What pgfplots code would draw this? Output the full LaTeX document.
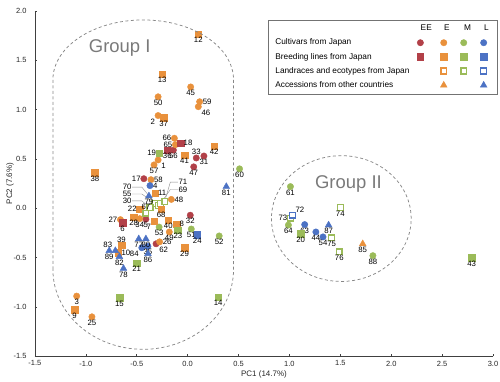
\documentclass[border=0pt]{standalone}
\usepackage{pgfplots}
\pgfplotsset{compat=1.18}
\usepackage{fontspec}
\setmainfont{Liberation Sans}
\definecolor{cEE}{RGB}{178,64,72}
\definecolor{cE}{RGB}{233,145,60}
\definecolor{cM}{RGB}{155,187,89}
\definecolor{cL}{RGB}{76,114,196}
\definecolor{grp}{RGB}{122,122,122}
\newcommand{\tickfont}{\fontsize{7.5pt}{9pt}\selectfont}
\newcommand{\lblfont}{\fontsize{7.8pt}{9pt}\selectfont}
\newcommand{\axfont}{\fontsize{8pt}{9pt}\selectfont}
\newcommand{\legfont}{\fontsize{8.3pt}{10pt}\selectfont}
\newcommand{\grpfont}{\fontsize{18.5pt}{22pt}\selectfont}
\tikzset{
  circ/.style={mark=*, mark size=3.2pt, mark options={draw=#1, fill=#1, line width=0.4pt}},
  sq/.style={mark=square*, mark size=3.3pt, mark options={draw=#1, fill=#1, line width=0.4pt}},
  hsq/.style={mark=square*, mark size=2.9pt, mark options={draw=#1, fill=white, line width=1.4pt}},
  tri/.style={mark=triangle*, mark size=3.9pt, mark options={draw=#1, fill=#1, line width=0.4pt}},
  grpline/.style={draw=grp!90, line width=0.75pt, dash pattern=on 3pt off 2.5pt},
}
\pgfplotsset{
  lab/.style={only marks, forget plot, point meta=explicit symbolic, nodes near coords,
    visualization depends on={value \thisrow{a}\as\anc},
    every node near coord/.append style={font=\lblfont, anchor=\anc, inner sep=0pt, outer sep=3.2pt, text=black}},
  rowlab/.style={legend image code/.code={\path[draw=none, fill=none] (0pt,0pt) rectangle (2pt,1pt);}},
  hdr/.style={legend image code/.code={\path[draw=none, fill=none] (-8pt,-4pt) rectangle (8pt,4pt); \node[inner sep=0pt, text=black, draw=none, fill=none] at (0pt,0pt) {#1};}},
  mkimg/.style={legend image code/.code={\path[draw=none, fill=none] (-8pt,-4pt) rectangle (8pt,4pt); \draw[##1, only marks] plot coordinates {(0pt,0pt)};}},
  blank/.style={legend image code/.code={\path[draw=none, fill=none] (-8pt,-4pt) rectangle (8pt,4pt);}},
}
\begin{document}
\begin{tikzpicture}
\useasboundingbox (-35pt,-25pt) rectangle (466pt,357pt);
\begin{axis}[
  scale only axis, width=459pt, height=346pt,
  xmin=-1.5, xmax=3, ymin=-1.5, ymax=2,
  clip=false,
  axis x line*=bottom, axis y line*=left,
  axis line style={-, black!75, line width=0.6pt},
  xtick={-1.5,-1,-0.5,0,0.5,1,1.5,2,2.5,3},
  ytick={-1.5,-1,-0.5,0,0.5,1,1.5,2},
  tick align=inside, major tick length=2.5pt,
  tick style={black!75, line width=0.6pt},
  /pgf/number format/.cd, fixed, fixed zerofill, precision=1, assume math mode=true, /pgfplots/.cd,
  ticklabel style={font=\tickfont, text=black!85},
  yticklabel style={xshift=-5pt},
  xticklabel style={yshift=-1pt},
  xlabel={PC1 (14.7\%)}, ylabel={PC2 (7.6\%)},
  label style={font=\axfont, text=black!85},
  xlabel style={at={(axis description cs:0.5,-0.052)}, anchor=center},
  ylabel style={at={(axis description cs:-0.0545,0.5)}, anchor=center},
  legend columns=5,
  legend cell align=left,
  legend style={at={(axis description cs:1.0109,0.974)}, anchor=north east,
    draw=black!55, line width=0.7pt, font=\legfont, fill=white,
    inner xsep=4pt, inner ysep=4.5pt, row sep=5.7pt, column sep=0pt,
    nodes={inner xsep=1pt, inner ysep=0.5pt},
    /tikz/every even column/.append style={column sep=2pt}},
]
% leader lines
\draw[black!45, line width=0.4pt] (axis cs:-0.545,0.215) -- (axis cs:-0.45,0.215) -- (axis cs:-0.32,0.05);
\draw[black!45, line width=0.4pt] (axis cs:-0.545,0.145) -- (axis cs:-0.45,0.145) -- (axis cs:-0.29,0.03);
\draw[black!45, line width=0.4pt] (axis cs:-0.545,0.075) -- (axis cs:-0.45,0.075) -- (axis cs:-0.37,0.01);
\draw[black!45, line width=0.4pt] (axis cs:-0.095,0.265) -- (axis cs:-0.17,0.265) -- (axis cs:-0.225,0.07);
\draw[black!45, line width=0.4pt] (axis cs:-0.095,0.19) -- (axis cs:-0.17,0.19) -- (axis cs:-0.265,0.05);
\node[font=\lblfont, anchor=east, inner sep=0pt] at (axis cs:-0.55,0.215) {70};
\node[font=\lblfont, anchor=east, inner sep=0pt] at (axis cs:-0.55,0.145) {55};
\node[font=\lblfont, anchor=east, inner sep=0pt] at (axis cs:-0.55,0.075) {30};
\node[font=\lblfont, anchor=west, inner sep=0pt] at (axis cs:-0.09,0.265) {71};
\node[font=\lblfont, anchor=west, inner sep=0pt] at (axis cs:-0.09,0.19) {69};
\node[font=\grpfont, text=grp] at (axis cs:-0.667,1.62) {Group I};
\node[font=\grpfont, text=grp] at (axis cs:1.58,0.25) {Group II};

% M landraces without direct labels (leader lines)
\addplot[only marks, forget plot, hsq=cM] table {
x y
-0.32 0.05
-0.29 0.03
-0.37 0.01
-0.265 0.05
-0.225 0.07
};
% EE cultivars
\addplot[lab, circ=cEE] table[meta=l] {
x y l a
0.085 0.51 33 south
0.16 0.53 31 north
0.06 0.42 47 north
-0.14 0.59 56 north
-0.43 0.30 17 east
-0.41 -0.11 5 north
0.026 -0.07 32 north
-0.31 -0.36 62 {north west}
};
% E cultivars
\addplot[lab, circ=cE] table[meta=l] {
x y l a
-0.29 1.13 50 north
0.03 1.23 45 north
0.118 1.08 59 west
0.105 1.03 46 {north west}
-0.29 0.94 2 {north east}
-0.13 0.71 66 east
-0.12 0.645 65 east
-0.29 0.49 1 {north west}
-0.33 0.44 57 north
-0.36 0.29 58 west
-0.16 0.09 48 west
-0.66 -0.115 27 east
-0.47 -0.105 34 north
-0.18 -0.24 49 north
-0.275 -0.34 26 west
-1.09 -0.89 3 north
-0.94 -1.10 25 north
};
% M cultivars
\addplot[lab, circ=cM] table[meta=l] {
x y l a
0.51 0.40 60 north
-0.28 -0.19 53 north
0.036 -0.21 51 north
0.31 -0.28 52 north
1.01 0.22 61 north
0.99 -0.17 64 north
1.82 -0.48 88 north
};
% L cultivars
\addplot[lab, circ=cL] table[meta=l] {
x y l a
-0.37 0.23 4 west
-0.45 -0.40 84 {north east}
-0.39 -0.385 35 north
1.15 -0.165 63 north
1.26 -0.24 44 north
1.33 -0.29 54 north
};
% EE breeding lines
\addplot[lab, sq=cEE] table[meta=l] {
x y l a
-0.07 0.66 18 west
-0.20 0.59 36 north
-0.64 -0.145 6 north
};
% E breeding lines
\addplot[lab, sq=cE] table[meta=l] {
x y l a
0.105 1.765 12 north
-0.25 1.36 13 north
-0.235 0.92 37 north
-0.03 0.54 41 north
0.26 0.63 42 north
-0.91 0.36 38 north
-0.32 0.155 11 west
-0.47 -0.01 22 east
-0.26 -0.01 68 north
-0.53 -0.09 28 north
-0.33 -0.13 7 {north east}
-0.19 -0.12 40 north
-0.11 -0.16 8 west
-0.03 -0.40 29 north
-0.65 -0.375 39 south
-0.68 -0.45 10 west
-1.11 -1.03 9 north
};
% M breeding lines
\addplot[lab, sq=cM] table[meta=l] {
x y l a
-0.28 0.56 19 east
-0.095 -0.22 23 north
-0.50 -0.555 21 north
-0.67 -0.905 15 north
0.30 -0.90 14 north
1.11 -0.26 20 north
2.79 -0.50 43 north
};
% L breeding lines
\addplot[lab, sq=cL] table[meta=l] {
x y l a
0.095 -0.27 24 north
};
% M landraces
\addplot[lab, hsq=cM] table[meta=l] {
x y l a
-0.41 -0.05 67 south
1.01 -0.10 73 east
1.50 0.007 74 north
1.415 -0.30 75 north
1.49 -0.44 76 north
};
% L landraces
\addplot[lab, hsq=cL] table[meta=l] {
x y l a
1.03 -0.07 72 {south west}
};
% E accessions
\addplot[lab, tri=cE] table[meta=l] {
x y l a
1.72 -0.36 85 north
};
% L accessions
\addplot[lab, tri=cL] table[meta=l] {
x y l a
0.38 0.22 81 north
-0.38 0.125 79 north
-0.48 -0.31 77 north
-0.41 -0.31 80 north
-0.39 -0.46 86 north
-0.71 -0.43 83 {south east}
-0.77 -0.43 89 north
-0.67 -0.49 82 north
-0.63 -0.61 78 north
1.385 -0.17 87 north
};

% legend (5 columns)
\addlegendimage{rowlab}\addlegendentry{}
\addlegendimage{hdr=EE}\addlegendentry{}
\addlegendimage{hdr=E}\addlegendentry{}
\addlegendimage{hdr=M}\addlegendentry{}
\addlegendimage{hdr=L}\addlegendentry{}

\addlegendimage{rowlab}\addlegendentry{Cultivars from Japan}
\addlegendimage{only marks, circ=cEE, mkimg}\addlegendentry{}
\addlegendimage{only marks, circ=cE, mkimg}\addlegendentry{}
\addlegendimage{only marks, circ=cM, mkimg}\addlegendentry{}
\addlegendimage{only marks, circ=cL, mkimg}\addlegendentry{}

\addlegendimage{rowlab}\addlegendentry{Breeding lines from Japan}
\addlegendimage{only marks, sq=cEE, mkimg}\addlegendentry{}
\addlegendimage{only marks, sq=cE, mkimg}\addlegendentry{}
\addlegendimage{only marks, sq=cM, mkimg}\addlegendentry{}
\addlegendimage{only marks, sq=cL, mkimg}\addlegendentry{}

\addlegendimage{rowlab}\addlegendentry{Landraces and ecotypes from Japan}
\addlegendimage{blank}\addlegendentry{}
\addlegendimage{only marks, hsq=cE, mkimg}\addlegendentry{}
\addlegendimage{only marks, hsq=cM, mkimg}\addlegendentry{}
\addlegendimage{only marks, hsq=cL, mkimg}\addlegendentry{}

\addlegendimage{rowlab}\addlegendentry{Accessions from other countries}
\addlegendimage{blank}\addlegendentry{}
\addlegendimage{only marks, tri=cE, mkimg}\addlegendentry{}
\addlegendimage{blank}\addlegendentry{}
\addlegendimage{only marks, tri=cL, mkimg}\addlegendentry{}
\end{axis}
\draw[grpline] (18pt,87pt) -- (18pt,277pt) arc[start angle=180, end angle=0, x radius=90.5pt, y radius=60pt] -- (199pt,87pt) arc[start angle=0, end angle=-180, x radius=90.5pt, y radius=80pt] -- cycle;
\draw[grpline] (307pt,138pt) ellipse [x radius=70pt, y radius=63pt];
\end{tikzpicture}
\end{document}
